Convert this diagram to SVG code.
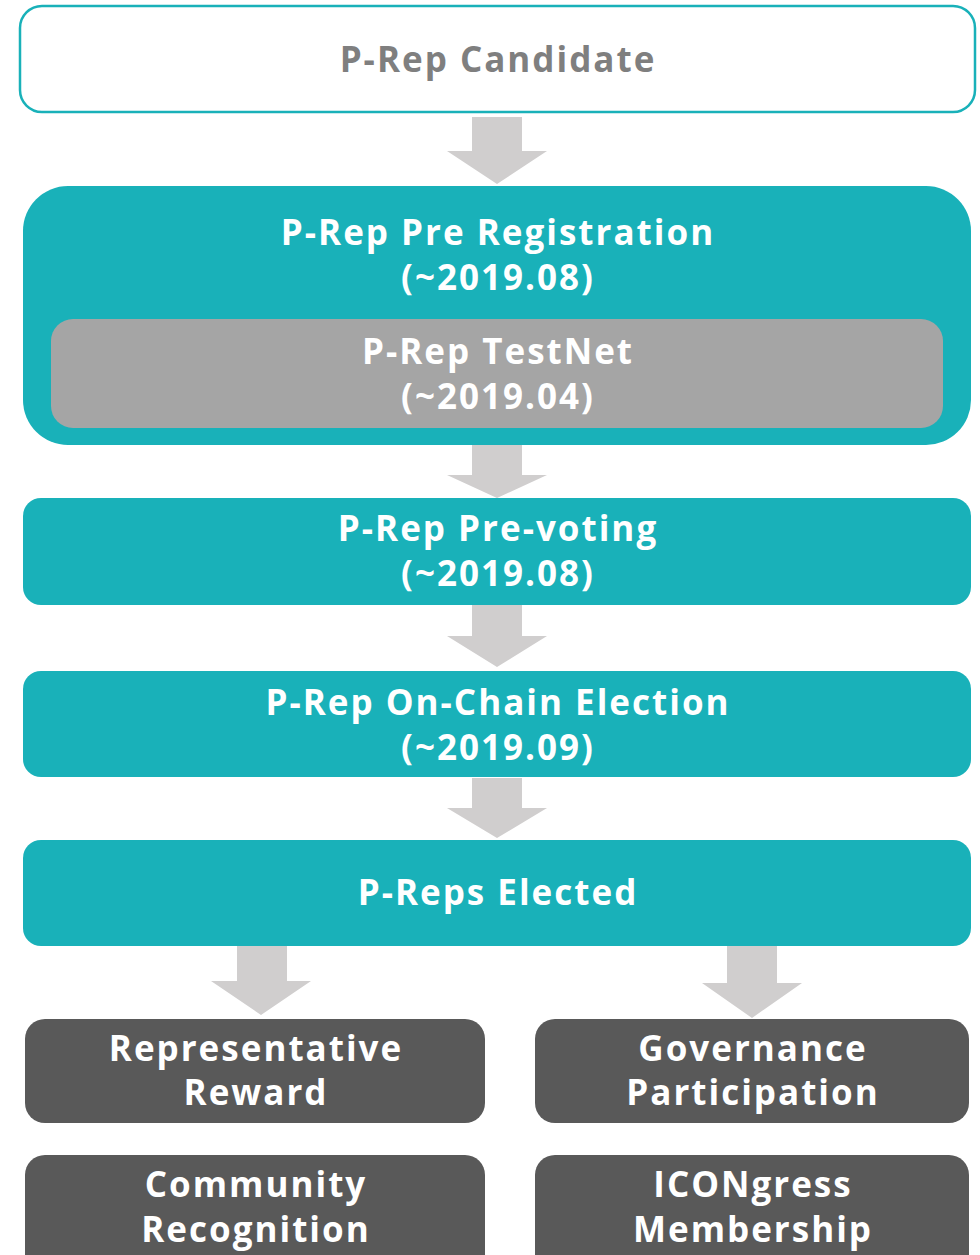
<svg xmlns="http://www.w3.org/2000/svg" width="980" height="1255" viewBox="0 0 980 1255">
<style>
text{font-family:"Open Sans","Liberation Sans",sans-serif;font-weight:700;font-size:35px;letter-spacing:2px;text-anchor:middle;fill:#ffffff}
.teal{fill:#19B1B9}
.dark{fill:#595959}
.arrow{fill:#D0CECE}
</style>
<rect width="980" height="1255" fill="#ffffff"/>
<g id="connectors">
<polygon class="arrow" points="472,117 522,117 522,151 547,151 497,184 447,151 472,151"/>
<polygon class="arrow" points="472,445 522,445 522,475 547,475 497,498 447,475 472,475"/>
<polygon class="arrow" points="472,605 522,605 522,636 547,636 497,667 447,636 472,636"/>
<polygon class="arrow" points="472,778 522,778 522,808 547,808 497,838 447,808 472,808"/>
<polygon class="arrow" points="237,946 287,946 287,981 311,981 261,1015 211,981 237,981"/>
<polygon class="arrow" points="727,946 777,946 777,983 802,983 752,1018 702,983 727,983"/>
</g>
<g id="candidate">
<rect x="20" y="6" width="955" height="106" rx="22" fill="#ffffff" stroke="#19B1B9" stroke-width="2.5"/>
<text x="498" y="72" style="fill:#7F7F7F">P-Rep Candidate</text>
</g>
<g id="pre-registration">
<rect class="teal" x="23" y="186" width="948" height="259" rx="45"/>
<text x="498" y="245">P-Rep Pre Registration</text>
<text x="498" y="290">(~2019.08)</text>
</g>
<g id="testnet">
<rect x="51" y="319" width="892" height="109" rx="22" fill="#A5A5A5"/>
<text x="498" y="364">P-Rep TestNet</text>
<text x="498" y="409">(~2019.04)</text>
</g>
<g id="pre-voting">
<rect class="teal" x="23" y="498" width="948" height="107" rx="18"/>
<text x="498" y="541">P-Rep Pre-voting</text>
<text x="498" y="586">(~2019.08)</text>
</g>
<g id="on-chain-election">
<rect class="teal" x="23" y="671" width="948" height="106" rx="18"/>
<text x="498" y="715">P-Rep On-Chain Election</text>
<text x="498" y="760">(~2019.09)</text>
</g>
<g id="elected">
<rect class="teal" x="23" y="840" width="948" height="106" rx="18"/>
<text x="498" y="905">P-Reps Elected</text>
</g>
<g id="representative-reward">
<rect class="dark" x="25" y="1019" width="460" height="104" rx="20"/>
<text x="256" y="1061">Representative</text>
<text x="256" y="1105">Reward</text>
</g>
<g id="governance-participation">
<rect class="dark" x="535" y="1019" width="434" height="104" rx="20"/>
<text x="753" y="1061">Governance</text>
<text x="753" y="1105">Participation</text>
</g>
<g id="community-recognition">
<rect class="dark" x="25" y="1155" width="460" height="130" rx="20"/>
<text x="256" y="1197">Community</text>
<text x="256" y="1242">Recognition</text>
</g>
<g id="icongress-membership">
<rect class="dark" x="535" y="1155" width="434" height="130" rx="20"/>
<text x="753" y="1197">ICONgress</text>
<text x="753" y="1242">Membership</text>
</g>
</svg>
